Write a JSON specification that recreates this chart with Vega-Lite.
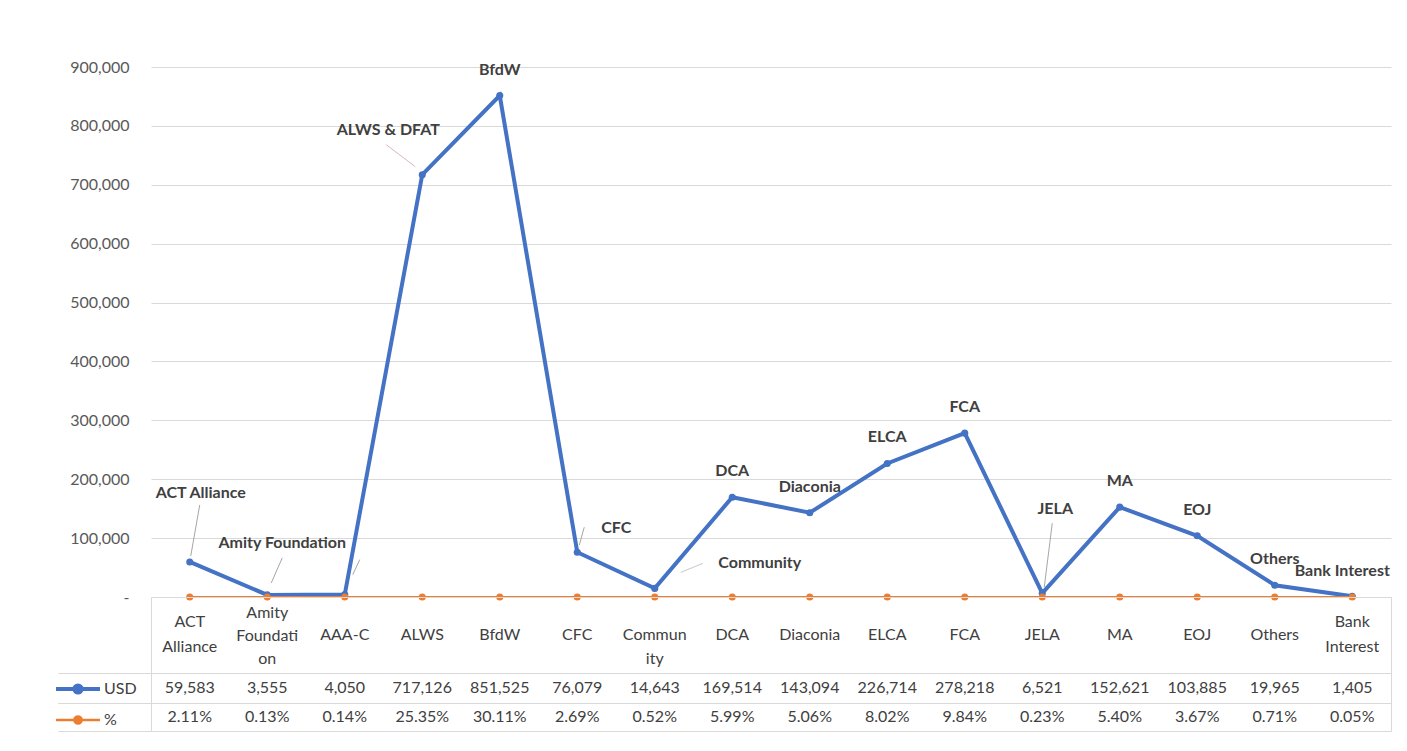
{
  "$schema": "https://vega.github.io/schema/vega-lite/v6.json",
  "background": "white",
  "padding": {"left": 57, "top": 59, "right": 10, "bottom": 10},
  "bounds": "flush",
  "spacing": 0,
  "data": {"values": [
    {"cat": "ACT Alliance", "tname": "ACT\nAlliance", "label": "ACT Alliance", "usd": 59583, "pct": 0.0211},
    {"cat": "Amity Foundation", "tname": "Amity\nFoundati\non", "label": "Amity Foundation", "usd": 3555, "pct": 0.0013},
    {"cat": "AAA-C", "tname": "AAA-C", "label": "", "usd": 4050, "pct": 0.0014},
    {"cat": "ALWS", "tname": "ALWS", "label": "ALWS & DFAT", "usd": 717126, "pct": 0.2535},
    {"cat": "BfdW", "tname": "BfdW", "label": "BfdW", "usd": 851525, "pct": 0.3011},
    {"cat": "CFC", "tname": "CFC", "label": "CFC", "usd": 76079, "pct": 0.0269},
    {"cat": "Community", "tname": "Commun\nity", "label": "Community", "usd": 14643, "pct": 0.0052},
    {"cat": "DCA", "tname": "DCA", "label": "DCA", "usd": 169514, "pct": 0.0599},
    {"cat": "Diaconia", "tname": "Diaconia", "label": "Diaconia", "usd": 143094, "pct": 0.0506},
    {"cat": "ELCA", "tname": "ELCA", "label": "ELCA", "usd": 226714, "pct": 0.0802},
    {"cat": "FCA", "tname": "FCA", "label": "FCA", "usd": 278218, "pct": 0.0984},
    {"cat": "JELA", "tname": "JELA", "label": "JELA", "usd": 6521, "pct": 0.0023},
    {"cat": "MA", "tname": "MA", "label": "MA", "usd": 152621, "pct": 0.054},
    {"cat": "EOJ", "tname": "EOJ", "label": "EOJ", "usd": 103885, "pct": 0.0367},
    {"cat": "Others", "tname": "Others", "label": "Others", "usd": 19965, "pct": 0.0071},
    {"cat": "Bank Interest", "tname": "Bank\nInterest", "label": "Bank Interest", "usd": 1405, "pct": 0.0005}
  ]},
  "config": {
    "font": "Lato",
    "view": {"stroke": null}
  },
  "vconcat": [
    {
      "width": 1240,
      "height": 530,
      "encoding": {
        "x": {"field": "cat", "type": "nominal", "sort": null, "axis": null},
        "y": {
          "field": "usd", "type": "quantitative",
          "scale": {"domain": [0, 900000], "nice": false},
          "axis": {
            "title": null, "grid": true, "gridColor": "#d9d9d9", "gridWidth": 1,
            "domain": false, "ticks": false, "labelPadding": 22,
            "labelFont": "Lato", "labelFontSize": 16, "labelColor": "#595959",
            "values": [0, 100000, 200000, 300000, 400000, 500000, 600000, 700000, 800000, 900000],
            "labelExpr": "datum.value === 0 ? '-\u00a0\u00a0\u00a0' : format(datum.value, ',')"
          }
        }
      },
      "layer": [
        {
          "mark": {"type": "line", "strokeWidth": 4},
          "encoding": {
            "color": {
              "datum": "USD", "type": "nominal",
              "scale": {"domain": ["USD", "%"], "range": ["#4472C4", "#ED7D31"]},
              "legend": {
                "orient": "none", "legendX": -81, "legendY": 614, "title": null, "direction": "vertical",
                "symbolType": "M-5.5,0H5.5M-0.9,0A0.9,0.9 0 1,0 0.9,0A0.9,0.9 0 1,0 -0.9,0Z",
                "symbolSize": 64, "symbolStrokeWidth": 4,
                "labelFont": "Lato", "labelFontSize": 16, "labelColor": "#404040", "labelOffset": 18,
                "rowPadding": 10, "padding": 0,
                "encode": {"symbols": {"update": {
                  "fill": {"signal": "datum.value === 'USD' ? '#4472C4' : '#ED7D31'"},
                  "stroke": {"signal": "datum.value === 'USD' ? '#4472C4' : '#ED7D31'"},
                  "strokeWidth": {"signal": "datum.value === 'USD' ? 4 : 2.5"},
                  "opacity": {"value": 1}
                }}}
              }
            }
          }
        },
        {"mark": {"type": "point", "filled": true, "size": 50, "opacity": 1, "color": "#4472C4"}},
        {
          "mark": {"type": "line", "strokeWidth": 2},
          "encoding": {
            "y": {
              "field": "pct", "type": "quantitative",
              "scale": {"domain": [0, 900000], "nice": false},
              "axis": {
                "title": null, "grid": true, "gridColor": "#d9d9d9", "gridWidth": 1,
                "domain": false, "ticks": false, "labelPadding": 22,
                "labelFont": "Lato", "labelFontSize": 16, "labelColor": "#595959",
                "values": [0, 100000, 200000, 300000, 400000, 500000, 600000, 700000, 800000, 900000],
                "labelExpr": "datum.value === 0 ? '-\u00a0\u00a0\u00a0' : format(datum.value, ',')"
              }
            },
            "color": {
              "datum": "%", "type": "nominal",
              "scale": {"domain": ["USD", "%"], "range": ["#4472C4", "#ED7D31"]},
              "legend": {
                "orient": "none", "legendX": -81, "legendY": 614, "title": null, "direction": "vertical",
                "symbolType": "M-5.5,0H5.5M-0.9,0A0.9,0.9 0 1,0 0.9,0A0.9,0.9 0 1,0 -0.9,0Z",
                "symbolSize": 64, "symbolStrokeWidth": 4,
                "labelFont": "Lato", "labelFontSize": 16, "labelColor": "#404040", "labelOffset": 18,
                "rowPadding": 10, "padding": 0,
                "encode": {"symbols": {"update": {
                  "fill": {"signal": "datum.value === 'USD' ? '#4472C4' : '#ED7D31'"},
                  "stroke": {"signal": "datum.value === 'USD' ? '#4472C4' : '#ED7D31'"},
                  "strokeWidth": {"signal": "datum.value === 'USD' ? 4 : 2.5"},
                  "opacity": {"value": 1}
                }}}
              }
            }
          }
        },
        {
          "mark": {"type": "point", "filled": true, "size": 50, "opacity": 1, "color": "#ED7D31"},
          "encoding": {
            "y": {
              "field": "pct", "type": "quantitative",
              "scale": {"domain": [0, 900000], "nice": false},
              "axis": {
                "title": null, "grid": true, "gridColor": "#d9d9d9", "gridWidth": 1,
                "domain": false, "ticks": false, "labelPadding": 22,
                "labelFont": "Lato", "labelFontSize": 16, "labelColor": "#595959",
                "values": [0, 100000, 200000, 300000, 400000, 500000, 600000, 700000, 800000, 900000],
                "labelExpr": "datum.value === 0 ? '-\u00a0\u00a0\u00a0' : format(datum.value, ',')"
              }
            }
          }
        },
        {
          "transform": [{"filter": "indexof(['BfdW','DCA','Diaconia','ELCA','FCA','MA','EOJ','Others'], datum.cat) >= 0"}],
          "mark": {"type": "text", "dy": -26, "fontWeight": "bold", "fontSize": 16, "color": "#404040", "font": "Lato"},
          "encoding": {"text": {"field": "label"}}
        },
        {
          "transform": [{"filter": "datum.cat === 'ACT Alliance'"}],
          "mark": {"type": "text", "dx": 11, "dy": -69, "fontWeight": "bold", "fontSize": 16, "color": "#404040", "font": "Lato"},
          "encoding": {"text": {"field": "label"}}
        },
        {
          "transform": [{"filter": "datum.cat === 'Amity Foundation'"}],
          "mark": {"type": "text", "dx": 15, "dy": -52, "fontWeight": "bold", "fontSize": 16, "color": "#404040", "font": "Lato"},
          "encoding": {"text": {"field": "label"}}
        },
        {
          "transform": [{"filter": "datum.cat === 'ALWS'"}],
          "mark": {"type": "text", "dx": -34, "dy": -45, "fontWeight": "bold", "fontSize": 16, "color": "#404040", "font": "Lato"},
          "encoding": {"text": {"field": "label"}}
        },
        {
          "transform": [{"filter": "datum.cat === 'CFC'"}],
          "mark": {"type": "text", "dx": 39, "dy": -24, "fontWeight": "bold", "fontSize": 16, "color": "#404040", "font": "Lato"},
          "encoding": {"text": {"field": "label"}}
        },
        {
          "transform": [{"filter": "datum.cat === 'Community'"}],
          "mark": {"type": "text", "dx": 105, "dy": -25, "fontWeight": "bold", "fontSize": 16, "color": "#404040", "font": "Lato"},
          "encoding": {"text": {"field": "label"}}
        },
        {
          "transform": [{"filter": "datum.cat === 'JELA'"}],
          "mark": {"type": "text", "dx": 13, "dy": -84, "fontWeight": "bold", "fontSize": 16, "color": "#404040", "font": "Lato"},
          "encoding": {"text": {"field": "label"}}
        },
        {
          "transform": [{"filter": "datum.cat === 'Bank Interest'"}],
          "mark": {"type": "text", "dx": -10, "dy": -25, "fontWeight": "bold", "fontSize": 16, "color": "#404040", "font": "Lato"},
          "encoding": {"text": {"field": "label"}}
        },
        {
          "transform": [{"filter": "datum.cat === 'ACT Alliance'"}],
          "mark": {"type": "rule", "color": "#a6a6a6", "strokeWidth": 1, "xOffset": 1, "yOffset": -6, "x2Offset": 10, "y2Offset": -57},
          "encoding": {"x2": {"field": "cat"}, "y2": {"field": "usd"}}
        },
        {
          "transform": [{"filter": "datum.cat === 'Amity Foundation'"}],
          "mark": {"type": "rule", "color": "#a6a6a6", "strokeWidth": 1, "xOffset": 4, "yOffset": -12, "x2Offset": 15, "y2Offset": -37},
          "encoding": {"x2": {"field": "cat"}, "y2": {"field": "usd"}}
        },
        {
          "transform": [{"filter": "datum.cat === 'AAA-C'"}],
          "mark": {"type": "rule", "color": "#a6a6a6", "strokeWidth": 1, "xOffset": 8, "yOffset": -20, "x2Offset": 15, "y2Offset": -35},
          "encoding": {"x2": {"field": "cat"}, "y2": {"field": "usd"}}
        },
        {
          "transform": [{"filter": "datum.cat === 'ALWS'"}],
          "mark": {"type": "rule", "color": "#d9b8b8", "strokeWidth": 1, "xOffset": -7, "yOffset": -8, "x2Offset": -36, "y2Offset": -30},
          "encoding": {"x2": {"field": "cat"}, "y2": {"field": "usd"}}
        },
        {
          "transform": [{"filter": "datum.cat === 'CFC'"}],
          "mark": {"type": "rule", "color": "#a6a6a6", "strokeWidth": 1, "xOffset": 2, "yOffset": -7, "x2Offset": 7, "y2Offset": -25},
          "encoding": {"x2": {"field": "cat"}, "y2": {"field": "usd"}}
        },
        {
          "transform": [{"filter": "datum.cat === 'Community'"}],
          "mark": {"type": "rule", "color": "#c8c8c8", "strokeWidth": 1, "xOffset": 26, "yOffset": -16, "x2Offset": 48, "y2Offset": -25},
          "encoding": {"x2": {"field": "cat"}, "y2": {"field": "usd"}}
        },
        {
          "transform": [{"filter": "datum.cat === 'JELA'"}],
          "mark": {"type": "rule", "color": "#a6a6a6", "strokeWidth": 1, "xOffset": 2, "yOffset": -6, "x2Offset": 10, "y2Offset": -70},
          "encoding": {"x2": {"field": "cat"}, "y2": {"field": "usd"}}
        }
      ]
    },
    {
      "width": 1240,
      "height": 76,
      "view": {"stroke": "#d9d9d9"},
      "encoding": {
        "x": {
          "field": "cat", "type": "nominal", "axis": null,
          "sort": ["ACT Alliance", "Amity Foundation", "AAA-C", "ALWS", "BfdW", "CFC", "Community", "DCA", "Diaconia", "ELCA", "FCA", "JELA", "MA", "EOJ", "Others", "Bank Interest"],
          "scale": {"domain": ["ACT Alliance", "Amity Foundation", "AAA-C", "ALWS", "BfdW", "CFC", "Community", "DCA", "Diaconia", "ELCA", "FCA", "JELA", "MA", "EOJ", "Others", "Bank Interest"]}
        },
        "text": {"field": "tname"}
      },
      "layer": [
        {
          "transform": [{"filter": "indexof(['ACT Alliance','Amity Foundation','Bank Interest'], datum.cat) < 0"}],
          "mark": {"type": "text", "lineBreak": "\n", "lineHeight": 24, "dy": 0, "fontSize": 16, "color": "#404040", "font": "Lato"}
        },
        {
          "transform": [{"filter": "datum.cat === 'ACT Alliance' || datum.cat === 'Bank Interest'"}],
          "mark": {"type": "text", "lineBreak": "\n", "lineHeight": 25, "dy": -13, "fontSize": 16, "color": "#404040", "font": "Lato"}
        },
        {
          "transform": [{"filter": "datum.cat === 'Amity Foundation'"}],
          "mark": {"type": "text", "lineBreak": "\n", "lineHeight": 23, "dy": -22, "fontSize": 16, "color": "#404040", "font": "Lato"}
        }
      ]
    },
    {
      "width": 1240,
      "height": 30,
      "view": {"stroke": "#d9d9d9"},
      "mark": {"type": "text", "fontSize": 16, "dy": 0, "color": "#404040", "font": "Lato"},
      "encoding": {
        "x": {"field": "cat", "type": "nominal", "sort": null, "axis": null},
        "y": {
          "datum": "USD", "type": "nominal",
          "scale": {"type": "band", "paddingInner": 0, "paddingOuter": 0},
          "axis": {"title": null, "labels": false, "domain": false, "grid": false, "ticks": true, "tickBand": "extent", "tickSize": 93, "tickColor": "#d9d9d9"}
        },
        "text": {"field": "usd", "type": "quantitative", "format": ","}
      }
    },
    {
      "width": 1240,
      "height": 28,
      "view": {"stroke": "#d9d9d9"},
      "mark": {"type": "text", "fontSize": 16, "dy": 0, "color": "#404040", "font": "Lato"},
      "encoding": {
        "x": {"field": "cat", "type": "nominal", "sort": null, "axis": null},
        "y": {
          "datum": "%", "type": "nominal",
          "scale": {"type": "band", "paddingInner": 0, "paddingOuter": 0},
          "axis": {"title": null, "labels": false, "domain": false, "grid": false, "ticks": true, "tickBand": "extent", "tickSize": 93, "tickColor": "#d9d9d9"}
        },
        "text": {"field": "pct", "type": "quantitative", "format": ".2%"}
      }
    }
  ]
}
